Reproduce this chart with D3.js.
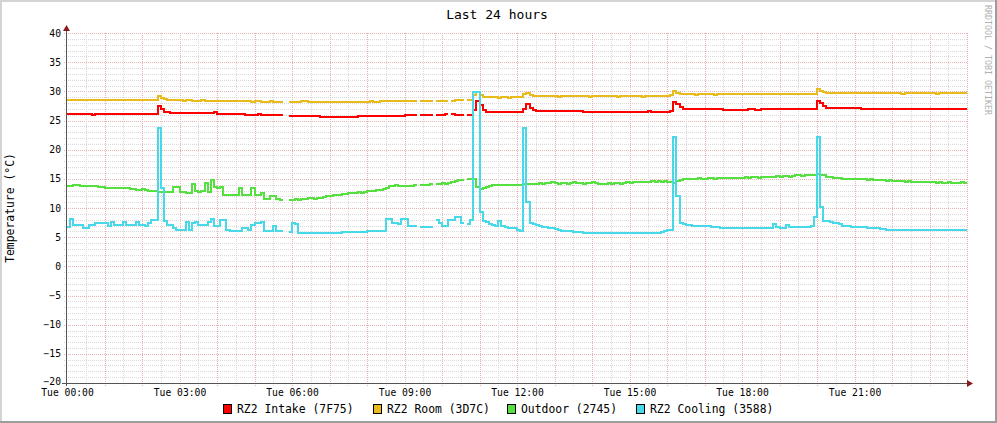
<!DOCTYPE html>
<html><head><meta charset="utf-8">
<script src="https://cdn.jsdelivr.net/npm/d3@7"></script>
<style>
body{margin:0;background:#fff}
svg{display:block}
text{font-family:"DejaVu Sans Mono",monospace}
</style>
</head><body><svg id="c" width="997" height="423"></svg>
<script>
// ---------- data ----------
const chartTitle = "Last 24 hours";
const yAxisTitle = "Temperature (°C)";
const watermark = "RRDTOOL / TOBI OETIKER";
const yTickValues = [-20,-15,-10,-5,0,5,10,15,20,25,30,35,40];
const seriesNames = ["RZ2 Intake (7F75)","RZ2 Room (3D7C)","Outdoor (2745)","RZ2 Cooling (3588)"];
const stepMinutes = 5; // one sample every 5 minutes, 288 samples = 24 h

const intake = [
/*0*/ 26.1,26.1,26.1,26.1,26.1,26.1,26.1,26.1,26.0,26.1,26.1,26.1,26.1,26.1,26.1,26.1,26.1,26.1,26.1,26.1,26.1,26.1,26.1,26.1,26.1,26.1,26.1,26.1,26.1,
/*29*/ 27.5,26.9,26.5,
/*32*/ 26.4,26.3,26.3,26.3,26.3,26.3,26.3,26.3,26.3,26.3,26.3,26.3,26.3,26.3,26.3,26.4,26.2,26.2,26.2,26.2,26.2,26.2,26.2,26.1,26.1,26.0,26.0,26.0,26.0,26.1,26.0,26.0,25.9,25.9,25.9,25.9,25.9,
/*69*/ null,null,
/*71*/ 25.8,25.8,25.8,25.8,25.8,25.8,25.8,25.7,25.7,25.7,25.6,25.6,25.6,25.6,25.6,25.6,25.6,25.6,25.6,25.6,25.6,25.6,25.7,25.7,25.7,25.7,25.7,25.7,25.7,25.7,25.7,25.7,25.8,25.8,25.8,25.8,25.8,25.9,25.9,25.9,25.9,
/*112*/ null,26.0,26.0,25.9,26.0,null,26.0,26.0,26.0,26.1,null,26.1,26.0,26.0,26.0,null,
/*128*/ 26.0,25.9,26.8,28.3,27.6,26.8,
/*134*/ 26.5,26.4,26.4,26.4,26.4,26.4,26.4,26.4,26.4,26.4,26.4,26.4,
/*146*/ 27.0,27.8,27.2,26.8,
/*150*/ 26.7,26.7,26.6,26.6,26.6,26.6,26.6,26.6,26.6,26.6,26.6,26.6,26.6,26.6,26.6,26.5,26.5,26.5,26.5,26.5,26.5,26.5,26.5,26.5,26.5,26.5,26.5,26.5,26.5,26.5,26.5,26.5,26.5,26.5,26.5,26.5,26.6,26.5,26.5,26.5,26.5,26.5,26.5,26.6,
/*194*/ 28.2,27.8,27.3,27.0,
/*198*/ 26.9,26.9,26.9,26.9,26.9,26.9,26.9,26.9,26.9,26.9,26.9,26.9,26.8,26.8,26.8,26.8,26.8,26.8,26.8,26.8,26.9,26.9,26.8,26.8,26.9,26.9,26.9,26.9,26.9,26.9,26.9,26.9,26.9,26.9,26.9,26.9,26.9,26.9,26.9,26.9,26.9,26.9,
/*240*/ 28.4,28.0,27.5,27.2,
/*244*/ 27.1,27.1,27.1,27.1,27.1,27.1,27.1,27.1,27.1,27.1,27.0,27.0,27.0,27.0,27.0,27.0,27.0,27.0,27.0,27.0,27.0,27.0,27.0,27.0,27.0,27.0,27.0,27.0,26.9,26.9,26.9,26.9,26.9,26.9,26.9,26.9,26.9,26.9,26.9,26.9,26.9,26.9,26.9,26.9
];
const room = [
/*0*/ 28.6,28.6,28.6,28.5,28.6,28.6,28.6,28.6,28.5,28.6,28.6,28.5,28.6,28.6,28.6,28.5,28.5,28.6,28.6,28.5,28.5,28.6,28.5,28.5,28.5,28.5,28.5,28.5,
/*28*/ 28.6,29.2,28.9,28.7,28.6,
/*33*/ 28.5,28.5,28.5,28.5,28.4,28.5,28.5,28.4,28.4,28.4,28.5,28.4,28.4,28.4,28.4,28.4,28.3,28.4,28.4,28.3,28.3,28.4,28.3,28.3,28.3,28.3,28.2,28.3,28.3,28.2,28.2,28.2,28.3,28.2,28.2,28.2,
/*69*/ null,null,
/*71*/ 28.2,28.2,28.2,28.2,28.3,28.3,28.2,28.2,28.2,28.2,28.2,28.2,28.2,28.2,28.2,28.2,28.2,28.1,28.2,28.2,28.2,28.2,28.2,28.2,28.2,28.2,28.3,28.2,28.2,28.3,28.3,28.3,28.3,28.3,28.3,28.3,28.4,28.3,28.3,28.3,28.3,
/*112*/ null,28.4,28.3,28.4,28.4,null,28.4,28.4,28.4,28.4,null,28.4,28.5,28.5,28.5,null,
/*128*/ 28.5,28.6,29.3,29.9,29.4,29.1,
/*134*/ 29.0,29.0,29.0,29.0,28.9,29.0,29.0,28.9,29.0,29.0,29.0,29.0,
/*146*/ 29.5,29.8,29.4,29.2,
/*150*/ 29.2,29.2,29.2,29.2,29.2,29.2,29.2,29.1,29.2,29.2,29.2,
29.2,29.2,29.2,29.2,29.2,29.2,29.1,29.2,29.2,29.2,29.2,
29.2,29.2,29.2,29.2,29.1,29.2,29.2,29.2,29.2,29.2,29.2,
29.2,29.1,29.2,29.2,29.2,29.2,29.2,29.2,29.2,29.2,29.3,
/*194*/ 30.0,29.8,29.6,29.5,
/*198*/ 29.5,29.5,29.5,29.4,29.5,29.5,29.5,29.5,29.5,29.4,
29.5,29.5,29.5,29.5,29.5,29.5,29.5,29.5,29.5,29.5,
29.6,29.5,29.5,29.5,29.5,29.6,29.5,29.6,29.6,29.5,
29.6,29.6,29.6,29.6,29.5,29.6,29.6,29.6,29.6,29.6,29.6,29.6,
/*240*/ 30.4,30.1,29.9,29.8,
/*244*/ 29.8,29.8,29.8,29.7,29.8,29.8,29.7,29.7,29.7,29.7,29.7,
29.7,29.7,29.7,29.7,29.7,29.7,29.7,29.7,29.7,29.7,29.7,
29.7,29.6,29.7,29.7,29.7,29.7,29.7,29.7,29.7,29.7,29.7,
29.7,29.6,29.7,29.7,29.7,29.7,29.7,29.7,29.7,29.7,29.7
];
const outdoor = [
/*0*/ 13.8,13.8,13.9,13.9,13.8,13.8,13.7,13.8,13.7,13.7,13.6,13.6,
/*12*/ 13.5,13.5,13.4,13.5,13.4,13.4,13.5,13.4,
/*20*/ 13.2,13.2,13.1,13.1,13.2,13.1,13.0,
/*27*/ 12.9,12.9,12.8,12.8,12.7,
/*32*/ 12.7,12.8,13.6,
/*35*/ 13.6,12.8,12.7,12.6,12.6,14.1,12.9,12.8,12.9,14.3,
12.8,14.8,13.6,13.5,13.6,12.3,12.2,12.2,12.3,12.2,
13.4,12.3,12.2,12.2,13.4,12.2,12.3,12.5,11.5,11.6,
12.1,12.0,11.5,11.4,
/*69*/ null,null,
/*71*/ 11.4,11.3,11.5,11.4,11.6,11.5,11.7,11.8,11.6,11.8,
11.7,11.9,12.0,12.1,12.2,12.3,12.2,12.4,12.4,12.5,
12.6,12.6,12.7,12.6,12.8,12.9,13.0,13.0,13.1,13.1,
13.3,13.5,13.7,13.8,14.0,13.8,13.7,13.8,13.7,13.8,13.9,
/*112*/ null,13.9,14.0,14.0,14.1,null,
/*118*/ 14.2,14.1,14.3,14.2,14.3,14.5,14.7,14.8,14.8,null,
/*128*/ 14.9,15.0,15.0,13.6,13.2,13.4,13.6,13.7,13.9,13.9,14.0,13.9,14.0,14.0,13.9,14.0,14.0,14.0,14.1,14.1,14.2,14.2,14.2,
/*151*/ 14.3,14.2,14.3,14.3,14.4,14.3,14.2,14.3,14.3,14.2,14.3,14.4,14.3,14.3,14.2,14.3,14.3,14.4,14.3,
/*170*/ 14.2,14.2,14.2,14.3,14.2,14.3,14.3,14.2,14.3,14.4,14.3,14.4,14.4,14.5,14.4,14.5,14.5,14.6,14.5,14.6,14.5,14.6,14.5,
/*193*/ 14.4,14.3,14.6,14.8,14.9,
/*198*/ 14.9,15.0,15.0,15.0,15.1,15.0,15.0,15.1,15.1,15.0,15.1,15.2,15.1,15.1,15.2,15.2,15.1,15.2,15.2,15.3,15.2,15.3,15.3,15.2,
/*222*/ 15.3,15.4,15.4,15.3,15.4,15.5,15.4,15.5,15.5,15.4,15.5,15.6,15.6,15.5,15.6,15.7,15.7,15.6,
/*240*/ 15.8,15.7,15.6,15.4,15.3,15.2,
/*246*/ 15.1,15.1,15.0,15.0,15.0,14.9,15.0,14.9,14.9,14.9,14.8,14.9,14.8,14.8,14.8,14.8,14.7,14.8,14.7,14.7,
/*266*/ 14.6,14.6,14.5,14.6,14.5,14.5,14.5,14.4,14.5,14.4,14.4,14.4,14.3,14.4,14.3,14.3,14.4,14.3,14.3,14.3,14.4,14.3
];
const cooling = [
/*0*/ 6.7,8.1,7.1,7.1,7.1,6.5,6.5,7.1,7.1,7.4,
7.4,7.4,7.4,6.9,7.6,7.1,7.1,7.1,7.6,7.1,
7.1,7.1,7.6,7.1,7.1,7.0,7.5,8.0,8.0,23.7,
13.5,7.8,
/*32*/ 7.1,7.1,6.5,6.2,6.2,6.2,7.6,6.2,7.4,7.6,
7.1,7.1,7.1,7.6,8.1,6.9,6.9,8.0,8.0,6.2,
6.0,6.0,6.0,6.0,6.5,6.5,6.2,7.1,7.4,7.4,
7.6,6.0,6.0,6.0,7.0,6.0,6.0,
/*69*/ null,null,
/*71*/ 5.9,7.5,7.2,5.8,
5.8,5.8,5.8,5.8,5.8,5.8,5.8,5.8,5.8,5.8,5.8,5.8,
5.8,5.9,5.9,5.9,5.9,5.9,5.9,5.9,5.9,6.0,
6.0,6.0,6.1,6.1,6.1,
8.1,8.2,7.4,7.4,7.2,8.2,8.2,7.0,7.0,6.9,
/*112*/ null,6.7,6.7,6.7,6.8,null,
/*118*/ 7.9,7.4,7.0,7.0,7.9,7.9,8.5,8.5,7.4,null,
/*128*/ 7.2,7.9,29.9,29.9,9.4,7.8,
/*134*/ 7.6,7.2,7.1,7.0,7.7,7.0,6.7,6.6,6.5,6.5,6.3,6.1,
/*146*/ 23.7,11.0,7.4,7.2,
/*150*/ 7.1,7.0,6.8,6.7,6.6,6.6,6.4,6.3,6.1,6.0,
6.0,6.0,5.9,5.9,5.9,5.8,5.8,5.8,5.8,5.8,5.7,
/*171*/ 5.7,5.7,5.7,5.8,5.7,5.7,5.7,5.7,5.8,5.7,5.7,5.8,5.7,5.7,5.7,5.8,5.8,5.8,5.8,5.9,6.0,
/*192*/ 6.2,6.3,22.2,12.0,7.5,7.2,
/*198*/ 7.1,7.1,7.0,7.0,6.9,6.9,6.9,6.9,6.8,6.8,
6.7,6.6,6.6,6.6,6.5,6.5,6.5,6.5,6.5,6.5,
6.5,6.5,6.5,6.5,6.6,6.6,6.6,6.6,7.3,6.7,
6.6,6.6,7.1,6.7,6.8,6.8,6.8,6.8,6.8,6.8,
6.9,8.5,
/*240*/ 22.1,10.2,7.7,7.7,7.6,7.5,7.4,7.2,7.0,6.9,
6.9,6.8,6.8,6.8,6.7,6.7,6.6,6.6,6.5,6.5,
6.4,6.4,6.3,6.3,6.3,6.2,6.2,
/*267*/ 6.2,6.2,6.2,6.3,6.3,6.2,6.2,6.2,6.3,6.3,6.2,6.2,6.3,6.3,6.2,6.2,6.2,6.2,6.3,6.2,6.2
];

// ---------- styles ----------
const seriesColors = ["#FF0000","#E9BA1C","#55E040","#48D9E8"];
const seriesData = [intake, room, outdoor, cooling];

// ---------- layout ----------
const W = 997, H = 423;
const L = 67, R = 967, T = 33, B = 383;
const svg = d3.select("#c");

const start = new Date(2024, 0, 2, 0, 0, 0); // a Tuesday
const end = d3.timeHour.offset(start, 24);
const x = d3.scaleTime().domain([start, end]).range([L, R]);
const y = d3.scaleLinear().domain([-20, 40]).range([B, T]);

// background + frame
svg.append("rect").attr("width", W).attr("height", H).attr("fill", "#ffffff");
svg.append("rect").attr("x", 0).attr("y", 0).attr("width", W).attr("height", 2).attr("fill", "#d4d4d4");
svg.append("rect").attr("x", 0).attr("y", 0).attr("width", 2).attr("height", H).attr("fill", "#d4d4d4");
svg.append("rect").attr("x", W - 2).attr("y", 0).attr("width", 2).attr("height", H).attr("fill", "#9c9c9c");
svg.append("rect").attr("x", 0).attr("y", H - 2).attr("width", W).attr("height", 2).attr("fill", "#9c9c9c");

// grid
const grid = svg.append("g").attr("shape-rendering", "crispEdges");
const minorCol = "#d9d9d9", majorCol = "#e8b2b2";
y.ticks(60).forEach(v => {
  const major = v % 5 === 0;
  if (v === -20) return;
  grid.append("line").attr("x1", 64).attr("x2", R).attr("y1", Math.round(y(v)) + 0.5).attr("y2", Math.round(y(v)) + 0.5)
    .attr("stroke", major ? majorCol : minorCol).attr("stroke-dasharray", "1,1");
});
x.ticks(d3.timeMinute.every(30)).forEach(t => {
  if (+t === +start) return;
  const major = t.getMinutes() === 0;
  const px = Math.round(x(t)) + 0.5;
  grid.append("line").attr("x1", px).attr("x2", px).attr("y1", T).attr("y2", B + 3)
    .attr("stroke", major ? majorCol : minorCol).attr("stroke-dasharray", "1,1");
});

// series
const n = intake.length;
const times = d3.range(n + 1).map(i => d3.timeMinute.offset(start, i * stepMinutes));
const line = d3.line().x(d => x(d.t)).y(d => y(d.v)).curve(d3.curveStepAfter);
seriesData.forEach((arr, si) => {
  const runs = [];
  let cur = null;
  arr.forEach((v, i) => {
    if (v == null) { if (cur) { runs.push(cur); cur = null; } return; }
    if (!cur) cur = [];
    cur.push({ t: times[i], v: v, i: i });
  });
  if (cur) runs.push(cur);
  runs.forEach(run => {
    const last = run[run.length - 1];
    const pts = run.concat([{ t: times[Math.min(last.i + 1, n)], v: last.v }]);
    svg.append("path").attr("d", line(pts)).attr("fill", "none")
      .attr("stroke", seriesColors[si]).attr("stroke-width", 2)
      .attr("shape-rendering", "crispEdges");
  });
});

// axes
const xAxis = d3.axisBottom(x).ticks(d3.timeHour.every(3)).tickFormat(d3.timeFormat("%a %H:%M")).tickSize(0).tickPadding(6);
const gx = svg.append("g").attr("transform", `translate(0,${B})`).call(xAxis);
gx.select(".domain").remove();
gx.selectAll("text").attr("font-family", "DejaVu Sans Mono").attr("font-size", 9.7).attr("fill", "#000");
gx.selectAll(".tick").filter(d => +d >= +end).remove();

const yAxis = d3.axisLeft(y).tickValues(yTickValues).tickSize(0).tickPadding(6);
const gy = svg.append("g").attr("transform", `translate(${L},0)`).call(yAxis);
gy.select(".domain").remove();
gy.selectAll("text").attr("font-family", "DejaVu Sans Mono").attr("font-size", 9.7).attr("fill", "#000");
gy.selectAll(".tick text").filter(d => d === -20).attr("dy", "0.15em");

// axis lines and arrows
const axisG = svg.append("g").attr("shape-rendering", "crispEdges");
axisG.append("line").attr("x1", 62).attr("x2", R + 1).attr("y1", B + 0.5).attr("y2", B + 0.5).attr("stroke", "#555");
axisG.append("line").attr("x1", L - 0.5).attr("x2", L - 0.5).attr("y1", B + 3).attr("y2", 29).attr("stroke", "#555");
svg.append("path").attr("d", `M${R},${B - 3}L${R + 6},${B + 0.5}L${R},${B + 4}Z`).attr("fill", "#8b1a1a");
svg.append("path").attr("d", `M${L - 4},${31}L${L - 0.5},${25}L${L + 3},${31}Z`).attr("fill", "#8b1a1a");

// titles
svg.append("text").attr("x", 497).attr("y", 18.5).attr("text-anchor", "middle")
  .attr("font-size", 13).attr("fill", "#000").text(chartTitle);
svg.append("text").attr("transform", "translate(14,208) rotate(-90)").attr("text-anchor", "middle")
  .attr("font-size", 11.4).attr("fill", "#000").text(yAxisTitle);
svg.append("text").attr("transform", "translate(985,5) rotate(90)").attr("text-anchor", "start")
  .attr("font-size", 8.3).attr("fill", "#b0b0b0").text(watermark);

// legend
const legendX = [223, 373, 507, 636];
const lg = svg.append("g");
seriesNames.forEach((nm, i) => {
  lg.append("rect").attr("x", legendX[i] + 0.5).attr("y", 404.5).attr("width", 8).attr("height", 9)
    .attr("fill", seriesColors[i]).attr("stroke", "#000").attr("stroke-width", 1).attr("shape-rendering", "crispEdges");
  lg.append("text").attr("x", legendX[i] + 14).attr("y", 413).attr("font-size", 11.4).attr("fill", "#000").text(nm);
});
</script>
</body></html>
